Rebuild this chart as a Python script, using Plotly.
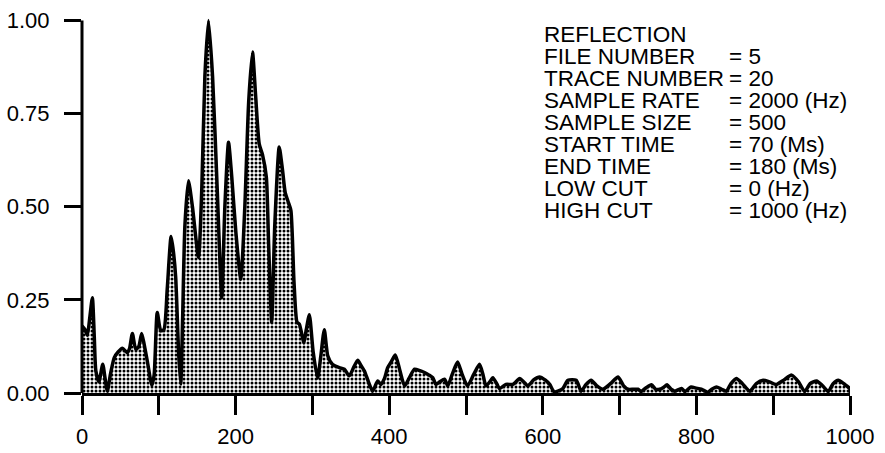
import plotly.graph_objects as go

# Spectrum (frequency in Hz, normalized amplitude)
freq_hz = [0, 4, 7, 10, 13.5, 16, 18, 22, 27, 30, 33, 37, 42, 47, 52.6, 59, 62, 65.6, 70, 74,
           77.7, 81, 85, 91, 94, 98, 102.6, 106.6, 111, 116, 119, 122, 126, 128.6, 131, 134,
           138.6, 143.8, 151.7, 156, 160, 164.7, 170, 176, 182, 186, 190.8, 195, 200.4, 206.8,
           212, 217, 222, 226, 230.8, 235, 240, 243, 247, 251, 256.8, 261, 264.6, 269, 272,
           276, 280, 283, 289, 292, 296, 301, 306.8, 311, 315.5, 320, 326, 335, 341.6, 348,
           354, 359, 363, 367.7, 373, 378.5, 385, 389.4, 394, 398, 403, 408, 414, 420, 426,
           433, 440, 446, 452, 456.7, 461, 466, 472, 476.3, 482, 489, 495, 502, 510, 517.6,
           522, 526, 531, 535, 540, 543.7, 552, 561, 566, 570, 575, 580.6, 588, 595.8, 603,
           609, 615, 626, 632.7, 643.5, 650, 656, 663, 670, 678, 688, 698, 705, 711, 718, 724,
           728, 735, 741.4, 747, 752, 757, 761.8, 767, 772, 780.5, 785, 793, 800, 806.5, 815,
           820, 826, 833, 839, 845, 852, 860, 869.6, 878, 886.9, 895, 904, 914, 924, 933, 941,
           948, 956.5, 964, 971.7, 978, 984.8, 992, 1000]
amplitude = [0.18, 0.17, 0.155, 0.20, 0.256, 0.15, 0.06, 0.03, 0.077, 0.04, 0.005, 0.05, 0.095,
             0.11, 0.12, 0.108, 0.12, 0.16, 0.117, 0.125, 0.16, 0.13, 0.086, 0.02, 0.05, 0.216,
             0.167, 0.17, 0.28, 0.42, 0.38, 0.31, 0.10, 0.024, 0.20, 0.45, 0.57, 0.50, 0.364,
             0.55, 0.85, 1.0, 0.85, 0.55, 0.256, 0.50, 0.673, 0.58, 0.43, 0.305, 0.50, 0.78,
             0.915, 0.80, 0.668, 0.64, 0.58, 0.40, 0.19, 0.45, 0.66, 0.60, 0.538, 0.51, 0.49,
             0.30, 0.19, 0.185, 0.135, 0.17, 0.21, 0.11, 0.04, 0.10, 0.17, 0.10, 0.077, 0.068,
             0.064, 0.046, 0.07, 0.088, 0.075, 0.059, 0.03, 0.005, 0.032, 0.023, 0.04, 0.068,
             0.085, 0.102, 0.06, 0.019, 0.04, 0.064, 0.06, 0.055, 0.048, 0.041, 0.023, 0.03,
             0.037, 0.019, 0.05, 0.083, 0.05, 0.019, 0.05, 0.077, 0.05, 0.019, 0.03, 0.041,
             0.025, 0.012, 0.023, 0.023, 0.032, 0.039, 0.03, 0.019, 0.035, 0.043, 0.035, 0.023,
             0.003, 0.012, 0.034, 0.034, 0.005, 0.022, 0.034, 0.02, 0.01, 0.025, 0.043, 0.02,
             0.01, 0.01, 0.01, 0.004, 0.015, 0.022, 0.01, 0.01, 0.015, 0.022, 0.01, 0.005,
             0.012, 0.004, 0.016, 0.013, 0.01, 0.002, 0.01, 0.016, 0.01, 0.005, 0.025, 0.039,
             0.025, 0.005, 0.025, 0.034, 0.03, 0.023, 0.035, 0.048, 0.03, 0.004, 0.025, 0.032,
             0.02, 0.004, 0.025, 0.034, 0.025, 0.012]

x_tick_vals = list(range(0, 1001, 100))
x_tick_text = ["0", "", "200", "", "400", "", "600", "", "800", "", "1000"]
y_tick_vals = [0, 0.25, 0.5, 0.75, 1.0]
y_tick_text = ["0.00", "0.25", "0.50", "0.75", "1.00"]

info_labels = ["REFLECTION", "FILE NUMBER", "TRACE NUMBER", "SAMPLE RATE", "SAMPLE SIZE",
               "START TIME", "END TIME", "LOW CUT", "HIGH CUT"]
info_values = ["", "= 5", "= 20", "= 2000 (Hz)", "= 500", "= 70 (Ms)", "= 180 (Ms)",
               "= 0 (Hz)", "= 1000 (Hz)"]

FONT = "Liberation Sans, Arial, Helvetica, sans-serif"
W, H = 885, 453
ML, MR, MT, MB = 82, 35, 13, 60
Y_MAX = 1.02

fig = go.Figure()
fig.add_trace(go.Scatter(
    x=freq_hz, y=amplitude, mode="lines",
    line=dict(color="black", width=3.5, shape="spline", smoothing=0.6),
    fill="tozeroy", fillcolor="white",
    fillpattern=dict(shape=".", fgcolor="black", bgcolor="white", size=4, solidity=0.45),
    hoverinfo="skip",
))

shapes = [
    # left axis line, stops at 1.00
    dict(type="line", xref="paper", yref="y", x0=0, x1=0, y0=0, y1=1.0,
         line=dict(color="black", width=3)),
    # closing edge at the end of the spectrum
    dict(type="line", xref="x", yref="y", x0=freq_hz[-1], x1=freq_hz[-1],
         y0=0, y1=amplitude[-1], line=dict(color="black", width=3)),
]

plot_h = H - MT - MB
plot_w = W - ML - MR


def py(pix):
    return (H - MB - pix) / plot_h


def px(pix):
    return (pix - ML) / plot_w


annotations = []
for i, (lab, val) in enumerate(zip(info_labels, info_values)):
    yc = py(34.2 + 22 * i)
    annotations.append(dict(text=lab, xref="paper", yref="paper", x=px(542), y=yc,
                            xanchor="left", yanchor="middle", showarrow=False,
                            font=dict(family=FONT, size=22.5, color="black")))
    if val:
        annotations.append(dict(text=val, xref="paper", yref="paper", x=px(727), y=yc,
                                xanchor="left", yanchor="middle", showarrow=False,
                                font=dict(family=FONT, size=22.5, color="black")))

fig.update_layout(
    template="none",
    width=W, height=H, autosize=False,
    margin=dict(l=ML, r=MR, t=MT, b=MB, pad=0),
    paper_bgcolor="white", plot_bgcolor="white",
    showlegend=False,
    font=dict(family=FONT, size=22, color="black"),
    shapes=shapes,
    annotations=annotations,
    xaxis=dict(range=[0, 1000], tickmode="array", tickvals=x_tick_vals, ticktext=x_tick_text,
               ticks="outside", ticklen=19, tickwidth=3, tickcolor="black",
               showline=True, linewidth=3, linecolor="black", automargin=False,
               showgrid=False, zeroline=False, tickfont=dict(size=22),
               ticklabelstandoff=3),
    yaxis=dict(range=[0, Y_MAX], tickmode="array", tickvals=y_tick_vals, ticktext=y_tick_text,
               ticks="outside", ticklen=17, tickwidth=3, tickcolor="black", automargin=False,
               showline=False, showgrid=False, zeroline=False, tickfont=dict(size=22),
               ticklabelstandoff=10),
)

fig.write_html(
    "out.html",
    config={"displayModeBar": False, "staticPlot": True},
    post_script="document.body.style.margin='0';document.body.style.overflow='hidden';",
)
